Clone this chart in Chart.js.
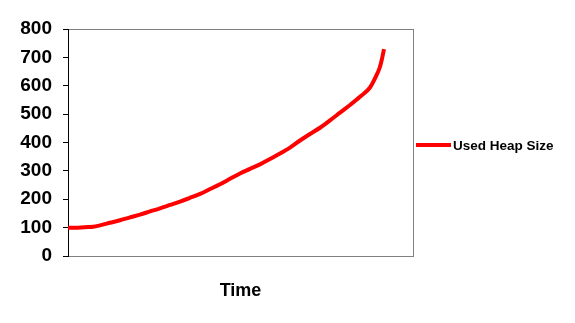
<!DOCTYPE html>
<html>
<head>
<meta charset="utf-8">
<script src="https://cdn.jsdelivr.net/npm/chart.js@4.4.0/dist/chart.umd.min.js"></script>
<style>
html,body{margin:0;padding:0;background:#fff;}
#wrap{width:575px;height:323px;position:relative;}
</style>
</head>
<body>
<div id="wrap"><canvas id="c" width="575" height="323"></canvas></div>
<script>
const seriesName = "Used Heap Size";
const axisTitle = "Time";
const timeSteps = [0,10,20,25,32,42,52,62,72,82,92,102,112,122,132,142,152,162,172,182,192,202,212,222,232,242,252,262,272,282,292,302,307,312,314,316];
const heapValues = [100,100,102,103,108,117,126,136,146,157,168,180,192,205,219,236,253,272,291,307,323,342,361,382,407,430,452,478,505,532,561,594,626,667,695,729];
const timeMax = 345;
const yTicks = [0,100,200,300,400,500,600,700,800];

const framePlugin = {
  id: 'frame',
  beforeDatasetsDraw(chart) {
    const {ctx, chartArea: a} = chart;
    ctx.save();
    ctx.strokeStyle = '#808080';
    ctx.lineWidth = 1;
    ctx.strokeRect(a.left + 0.5, a.top + 0.5, a.right - a.left, a.bottom - a.top);
    ctx.strokeStyle = '#000';
    ctx.beginPath();
    ctx.moveTo(a.left + 0.5, a.top);
    ctx.lineTo(a.left + 0.5, a.bottom + 1);
    ctx.stroke();
    ctx.restore();
  },
  afterDraw(chart) {
    const {ctx, chartArea: a} = chart;
    const ds = chart.data.datasets[0];
    const y = a.top + (a.bottom - a.top) * 0.511;
    ctx.save();
    ctx.strokeStyle = ds.borderColor;
    ctx.lineWidth = 4;
    ctx.beginPath();
    ctx.moveTo(a.right + 3, y);
    ctx.lineTo(a.right + 38, y);
    ctx.stroke();
    ctx.fillStyle = '#000';
    ctx.font = 'bold 13.5px "Liberation Sans", Arial, sans-serif';
    ctx.textBaseline = 'middle';
    ctx.textAlign = 'left';
    ctx.fillText(ds.label, a.right + 40, y + 1);
    ctx.restore();
  }
};

new Chart(document.getElementById('c'), {
  type: 'line',
  data: {
    datasets: [{
      label: seriesName,
      data: timeSteps.map((t, i) => ({x: t, y: heapValues[i]})),
      borderColor: '#ff0000',
      backgroundColor: '#ff0000',
      borderWidth: 4,
      pointRadius: 0,
      cubicInterpolationMode: 'monotone',
      fill: false
    }]
  },
  options: {
    responsive: false,
    animation: false,
    layout: {padding: {left: 0, top: 29, right: 162, bottom: 0}},
    plugins: {legend: {display: false}, tooltip: {enabled: false}},
    scales: {
      x: {
        type: 'linear',
        min: 0,
        max: timeMax,
        ticks: {display: false},
        grid: {display: false},
        border: {display: false},
        title: {
          display: true,
          text: axisTitle,
          color: '#000',
          font: {family: '"Liberation Sans", Arial, sans-serif', size: 18, weight: 'bold'},
          padding: {top: 0, bottom: 21}
        },
        afterFit(s) { s.height = 67; }
      },
      y: {
        min: 0,
        max: 800,
        afterBuildTicks(s) { s.ticks = yTicks.map(v => ({value: v})); },
        ticks: {
          color: '#000',
          padding: 11,
          font: {family: '"Liberation Sans", Arial, sans-serif', size: 19, weight: 'bold'}
        },
        grid: {drawOnChartArea: false, drawTicks: true, tickLength: 5, color: '#000'},
        border: {display: false},
        afterFit(s) { s.width = 68; }
      }
    }
  },
  plugins: [framePlugin]
});
</script>
</body>
</html>
